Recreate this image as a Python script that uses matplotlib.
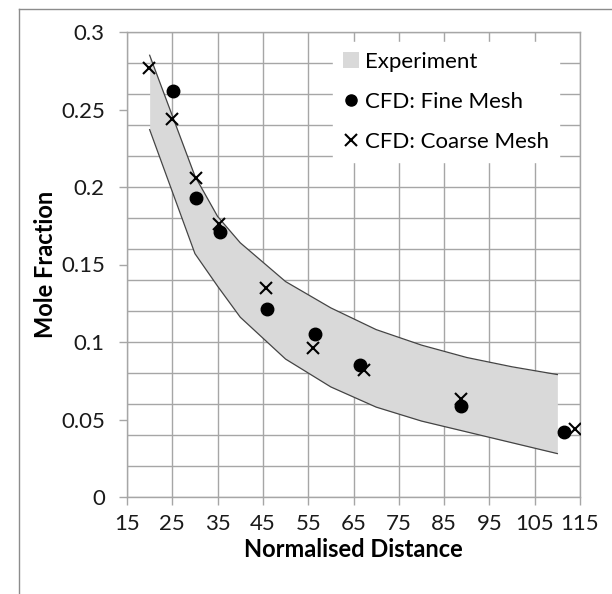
import matplotlib
matplotlib.use("Agg")
import matplotlib.pyplot as plt
from matplotlib.lines import Line2D
from matplotlib.patches import Patch

plt.rcParams['font.family'] = ['Lato', 'DejaVu Sans']

# Experiment band (lower / upper bounds)
exp_x = [20, 25, 30, 35, 40, 50, 60, 70, 80, 90, 100, 110]
exp_upper = [0.285, 0.246, 0.207, 0.181, 0.164, 0.139, 0.122, 0.108, 0.098, 0.090, 0.084, 0.079]
exp_lower = [0.237, 0.197, 0.157, 0.136, 0.116, 0.089, 0.071, 0.058, 0.049, 0.042, 0.035, 0.028]

# CFD results
fine_x = [25.2, 30.3, 35.6, 45.9, 56.4, 66.5, 88.7, 111.4]
fine_y = [0.262, 0.193, 0.171, 0.121, 0.105, 0.085, 0.059, 0.042]
coarse_x = [19.9, 25.0, 30.3, 35.4, 45.7, 56.1, 67.4, 88.7, 113.8]
coarse_y = [0.277, 0.244, 0.206, 0.176, 0.135, 0.096, 0.082, 0.063, 0.044]

x_ticks = [15, 25, 35, 45, 55, 65, 75, 85, 95, 105, 115]
y_ticks = [0, 0.05, 0.1, 0.15, 0.2, 0.25, 0.3]
y_grid = [i * 0.02 for i in range(16)]

grid_col = '#a6a6a6'
band_col = '#d9d9d9'

fig = plt.figure(figsize=(6.12, 5.94), dpi=100)
ax = fig.add_axes([127 / 612, 97 / 594, 453 / 612, 465 / 594])

# gridlines by hand: horizontal every 0.02, vertical at every x tick
for gy in y_grid:
    ax.axhline(gy, color=grid_col, lw=1.0, zorder=0)
for gx in x_ticks:
    ax.axvline(gx, color=grid_col, lw=1.0, zorder=0)

ax.fill_between(exp_x, exp_lower, exp_upper, color=band_col, lw=0, zorder=1)
ax.plot(exp_x, exp_upper, color='#444444', lw=0.9, zorder=2)
ax.plot(exp_x, exp_lower, color='#444444', lw=0.9, zorder=2)

ax.plot(fine_x, fine_y, 'o', color='black', ms=9, ls='none', zorder=3)
ax.plot(coarse_x, coarse_y, 'x', color='black', ms=9, mew=1.5, ls='none', zorder=4)

ax.set_xlim(15, 115)
ax.set_ylim(0, 0.3)
ax.set_xticks(x_ticks)
ax.set_xticklabels([str(t) for t in x_ticks])
ax.set_yticks(y_ticks)
ax.set_yticklabels(['0', '0.05', '0.1', '0.15', '0.2', '0.25', '0.3'])
ax.tick_params(axis='both', labelsize=16, color=grid_col, length=6, width=1,
               labelcolor='#1a1a1a')
ax.tick_params(axis='x', pad=6)
ax.tick_params(axis='y', pad=10)
for sp in ax.spines.values():
    sp.set_color(grid_col)
    sp.set_linewidth(1.0)

ax.set_xlabel('Normalised Distance', fontsize=17, fontweight='bold', labelpad=3)
ax.set_ylabel('Mole Fraction', fontsize=17, fontweight='bold', labelpad=3)

handles = [
    Patch(facecolor=band_col, edgecolor='none'),
    Line2D([], [], marker='o', color='black', ls='none', ms=8),
    Line2D([], [], marker='x', color='black', ls='none', ms=8, mew=1.5),
]
labels = ['Experiment', 'CFD: Fine Mesh', 'CFD: Coarse Mesh']
leg = ax.legend(handles, labels, loc='upper left', bbox_to_anchor=(0.455, 0.979),
                fontsize=16, frameon=True, facecolor='white', edgecolor='white',
                framealpha=1, fancybox=False, handlelength=0.7, handletextpad=0.3,
                labelspacing=0.9, borderpad=0.45, borderaxespad=0)
leg.set_zorder(5)

# outer chart border (top and left visible in the crop)
fig.add_artist(Line2D([19 / 612, 1], [1 - 9 / 594, 1 - 9 / 594], color='#8c8c8c', lw=1))
fig.add_artist(Line2D([19 / 612, 19 / 612], [0, 1 - 9 / 594], color='#8c8c8c', lw=1))

fig.savefig('out.png', dpi=100, facecolor='white')
